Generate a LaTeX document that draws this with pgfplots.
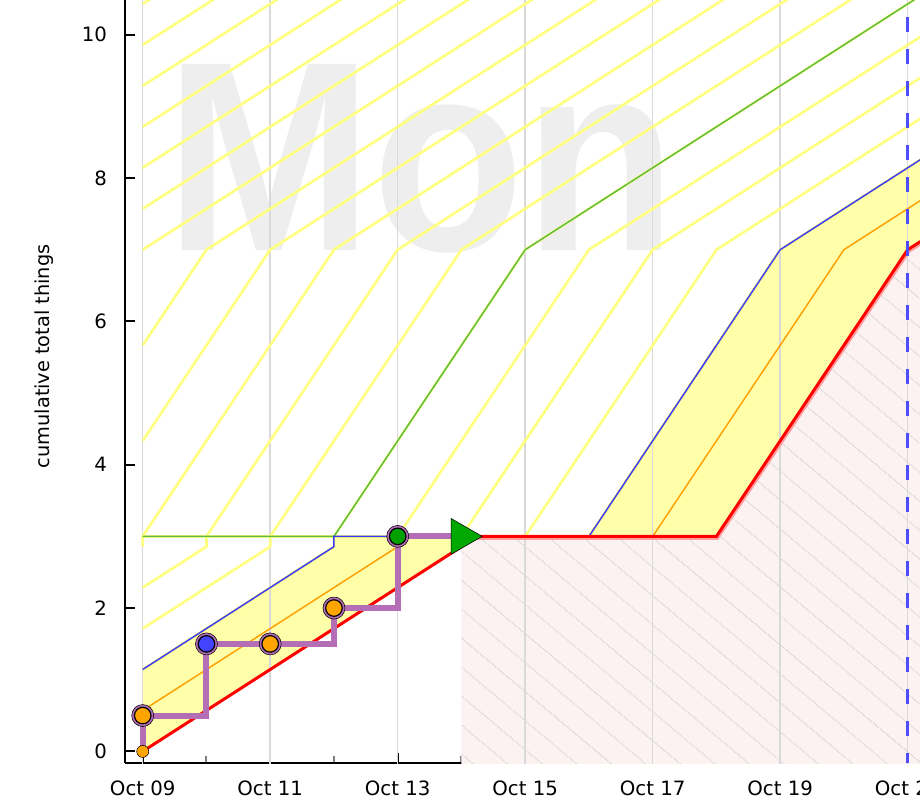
\documentclass[border=0pt]{standalone}
\usepackage{fontspec}
\setmainfont{DejaVu Sans}
\newfontfamily\wmfont{Liberation Sans}
\usepackage{graphicx}
\usepackage{pgfplots}
\pgfplotsset{compat=1.18}
\usetikzlibrary{patterns.meta}
\definecolor{yfill}{HTML}{FFFFAA}
\definecolor{ylinec}{HTML}{FFFF80}
\definecolor{pinkfill}{HTML}{FDF2F2}
\definecolor{hatch}{HTML}{DCD6D6}
\definecolor{bline}{HTML}{3A3AFF}
\definecolor{oline}{HTML}{FF9F00}
\definecolor{gline}{HTML}{5FBA46}
\definecolor{rglow}{HTML}{FFA0A0}
\definecolor{purp}{HTML}{B36EB6}
\definecolor{morange}{HTML}{FFA500}
\definecolor{mblue}{HTML}{4444FF}
\definecolor{mgreen}{HTML}{00A000}
\definecolor{tgreen}{HTML}{00A800}
\definecolor{dashblue}{HTML}{4D4DFF}
\definecolor{gridc}{HTML}{D9D9D9}
\definecolor{wm}{HTML}{EEEEEE}
\begin{document}
\begin{tikzpicture}
\useasboundingbox (-93.75pt,-35.25pt) rectangle (596.25pt,572.25pt);
\clip (-93.75pt,-35.25pt) rectangle (596.25pt,572.25pt);
\begin{axis}[
  at={(0pt,0pt)}, anchor=south west,
  width=596.25pt, height=572.25pt, scale only axis,
  xmin=-0.278, xmax=12.193, ymin=-0.162, ymax=10.484,
  axis lines*=left,
  axis line style={black, line width=1.5pt},
  xtick={0,2,...,12},
  xticklabels={Oct 09,Oct 11,Oct 13,Oct 15,Oct 17,Oct 19,Oct 21},
  minor xtick={1,3,...,11},
  ytick={0,2,...,10},
  tick align=inside,
  major tick length=7.5pt, minor tick length=5pt,
  major tick style={black, line width=1.5pt},
  minor tick style={gray, line width=1.5pt},
  tick label style={font=\fontsize{14.8}{16}\selectfont},
  /pgf/number format/assume math mode=true,
  yticklabel style={xshift=-10pt},
  xticklabel style={yshift=-10pt},
  ylabel={cumulative total things},
  ylabel style={font=\fontsize{14.5}{16}\selectfont, at={(axis description cs:-0.102,0.533)}, anchor=center},
  clip=true,
  yl/.style={ylinec, line width=2pt, forget plot},
]
% watermark
\node[anchor=base west, inner sep=0pt, text=wm] at (axis cs:0.35,6.99) {\scalebox{0.92}[1]{\wmfont\bfseries\fontsize{203}{203}\selectfont Mon}};
\node[anchor=base west, inner sep=0pt, text=wm] at (axis cs:11.72,1.35) {\scalebox{0.95}[1]{\wmfont\bfseries\fontsize{210}{210}\selectfont S}};
% pink hatched region
\addplot[fill=pinkfill, draw=none] coordinates {(5,-1) (5,3) (9,3) (12,7) (12.2,7.114) (12.2,-1)} -- cycle;
\addplot[pattern={Lines[angle=-40,distance=17pt,line width=0.7pt]}, pattern color=hatch, draw=none] coordinates {(5,-1) (5,3) (9,3) (12,7) (12.2,7.114) (12.2,-1)} -- cycle;
% yellow band between blue and red
\addplot[fill=yfill, draw=yfill, line width=0.5pt] coordinates {(0,1.143) (3,2.857) (3,3) (7,3) (10,7) (12.2,8.257) (12.2,7.114) (12,7) (9,3) (5,3) (5,2.857) (0,0)} -- cycle;
% grid
\pgfplotsinvokeforeach{0,2,...,12}{\addplot[gridc, line width=1.1pt, forget plot] coordinates {(#1,-1) (#1,12)};}
% yellow projection lines
\addplot[yl] coordinates {(0,1.143) (3,2.857) (3,3) (7,3) (10,7) (12.2,8.257)};
\addplot[yl] coordinates {(0,1.714) (2,2.857) (2,3) (6,3) (9,7) (12.2,8.829)};
\addplot[yl] coordinates {(0,2.286) (1,2.857) (1,3) (5,3) (8,7) (12.2,9.4)};
\addplot[yl] coordinates {(0,2.857) (0,3) (4,3) (7,7) (12.2,9.971)};
\addplot[yl] coordinates {(0,3) (3,3) (6,7) (12.2,10.543)};
\addplot[yl] coordinates {(0,3) (2,3) (5,7) (12.2,11.114)};
\addplot[yl] coordinates {(0,3) (1,3) (4,7) (12.2,11.686)};
\addplot[yl] coordinates {(0,3) (3,7) (12.2,12.257)};
\addplot[yl] coordinates {(0,4.333) (2,7) (12.2,12.829)};
\addplot[yl] coordinates {(0,5.667) (1,7) (12.2,13.4)};
\addplot[yl] coordinates {(0,7) (12.2,13.971)};
\addplot[yl] coordinates {(0,7.571) (12.2,14.543)};
\addplot[yl] coordinates {(0,8.143) (12.2,15.114)};
\addplot[yl] coordinates {(0,8.714) (12.2,15.686)};
\addplot[yl] coordinates {(0,9.286) (12.2,16.257)};
\addplot[yl] coordinates {(0,9.857) (12.2,16.829)};
\addplot[yl] coordinates {(0,10.429) (12.2,17.4)};
% green, blue, orange
\addplot[gline, line width=1.1pt] coordinates {(0,3) (3,3) (6,7) (12.2,10.543)};
\addplot[bline, line width=1.1pt] coordinates {(0,1.143) (3,2.857) (3,3) (7,3) (10,7) (12.2,8.257)};
\addplot[oline, line width=1.1pt] coordinates {(0,0.571) (4,2.857) (4,3) (8,3) (11,7) (12.2,7.686)};
% red
\addplot[rglow, line width=3.5pt, yshift=-0.8pt, xshift=0.5pt] coordinates {(5,3) (9,3) (12,7) (12.2,7.114)};
\addplot[red, line width=2.25pt] coordinates {(0,0) (5,2.857) (5,3) (9,3) (12,7) (12.2,7.114)};
% today
\addplot[dashblue, line width=2.4pt, dash pattern=on 11.25pt off 12.75pt, dash phase=11.25pt] coordinates {(12,10.484) (12,-0.162)};
% actual steps
\addplot[purp, line width=4.5pt, line join=miter] coordinates {(0,0) (0,0.5) (1,0.5) (1,1.5) (3,1.5) (3,2) (4,2) (4,3) (5,3)};
\addplot[only marks, mark=*, mark size=4.5pt, mark options={fill=morange, draw=none}] coordinates {(0,0)};
\addplot[only marks, mark=*, mark size=8.25pt, mark options={fill=purp, draw=none}] coordinates {(0,0.5) (1,1.5) (2,1.5) (3,2) (4,3)};
\addplot[only marks, mark=*, mark size=6.2pt, mark options={fill=morange, draw=black, line width=0.9pt}] coordinates {(0,0.5) (2,1.5) (3,2)};
\addplot[only marks, mark=*, mark size=6.2pt, mark options={fill=mblue, draw=black, line width=0.9pt}] coordinates {(1,1.5)};
\addplot[only marks, mark=*, mark size=6.2pt, mark options={fill=mgreen, draw=black, line width=0.9pt}] coordinates {(4,3)};
\addplot[only marks, mark=triangle*, mark size=15.5pt, mark options={rotate=-90, fill=tgreen, draw=none}] coordinates {(5,3)};
\end{axis}
\end{tikzpicture}
\end{document}
